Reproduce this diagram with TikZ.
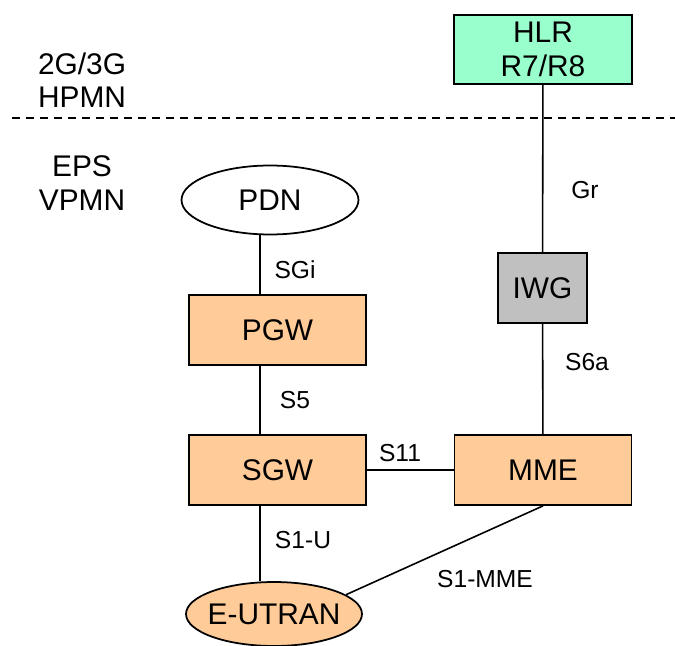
\documentclass[tikz,border=0pt]{standalone}
\usepackage{fontspec}
\setmainfont{Liberation Sans}
\usepackage{xcolor}
\usetikzlibrary{shapes.geometric}
\definecolor{gwpeach}{HTML}{FFCC99}
\definecolor{hlrmint}{HTML}{99FFCC}
\definecolor{iwggray}{HTML}{C0C0C0}
\tikzset{
	every node/.append style={font=\fontsize{17}{19}\selectfont},
	netbox/.style = {
			draw,
			line width = 1pt,
			minimum width = 3.54cm,
			minimum height = 1.4cm,
			inner sep = 0pt,
			align = center,
		},
	netcloud/.style = {
			ellipse,
			draw,
			line width = 1pt,
			minimum width = 3.54cm,
			minimum height = 1.38cm,
			inner sep = 0pt,
		},
	iflabel/.style = {font=\fontsize{14}{16}\selectfont},
	plmn/.style = {align=center, font=\fontsize{17}{19}\selectfont},
	link/.style = {line width=0.9pt},
}

\begin{document}
\begin{tikzpicture}[x=0.02cm,y=-0.02cm]
        \useasboundingbox (0,0) rectangle (675,645);
        % network parts
        \node at (543,49.5) [netbox, fill=hlrmint, minimum width=3.56cm, minimum height=1.38cm] (hlr) {HLR\\R7/R8};
        \node at (542.5,288) [netbox, fill=iwggray, minimum width=1.78cm] (iwg) {IWG};
        \node at (270,200) [netcloud] (pdn) {PDN};
        \node at (277.5,330) [netbox, fill=gwpeach] (pgw) {PGW};
        \node at (277.5,470) [netbox, fill=gwpeach] (sgw) {SGW};
        \node at (543,470) [netbox, fill=gwpeach] (mme) {MME};
        \node at (274,614) [netcloud, fill=gwpeach, minimum width=3.52cm, minimum height=1.28cm] (eutran) {\makebox[0pt]{E-UTRAN}};
        % home / visited split
        \node at (82,80) [plmn] (hpmn) {2G/3G\\HPMN};
        \node at (82,183) [plmn] (vpmn) {EPS\\VPMN};
        \coordinate (splitl) at (12,118);
        \coordinate (splitr) at (675,118);
        \draw [link, dash pattern=on 0.17cm off 0.11cm] (splitl) -- (splitr);
        % interfaces
        \coordinate (bus) at (260,0);
        \draw [link] (hlr) -- (iwg);
        \draw [link] (iwg) -- (mme);
        \draw [link] (pdn.south -| bus) -- (pgw.north -| bus);
        \draw [link] (pgw.south -| bus) -- (sgw.north -| bus);
        \draw [link] (sgw.south -| bus) -- (eutran.north -| bus);
        \draw [link] (sgw) -- (mme);
        \draw [link] (mme.south) -- (eutran.15);
        \node at (585,190) [iflabel] (gr) {Gr};
        \node at (587,362) [iflabel] (s6a) {S6a};
        \node at (295,270) [iflabel] (sgi) {SGi};
        \node at (295,400) [iflabel] (s5) {S5};
        \node at (400,453) [iflabel] (s11) {S11};
        \node at (303,540) [iflabel] (s1u) {S1-U};
        \node at (485,579) [iflabel] (s1mme) {S1-MME};
      \end{tikzpicture}
\end{document}
